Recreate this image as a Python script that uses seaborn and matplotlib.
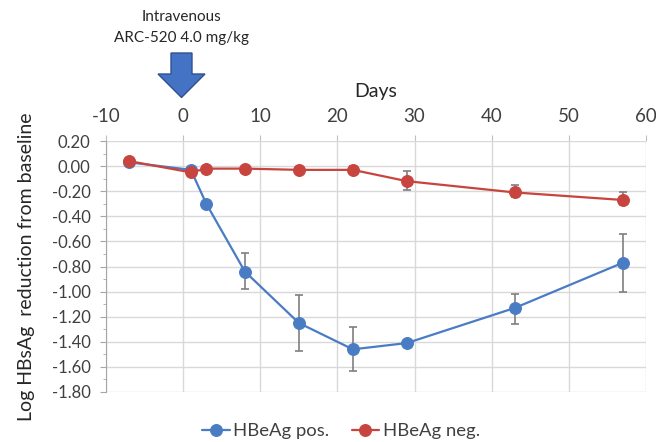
import numpy as np
import pandas as pd
import seaborn as sns
import matplotlib.pyplot as plt
from matplotlib.patches import Polygon
from matplotlib.ticker import MultipleLocator

# Days after dosing
days = [-7, 1, 3, 8, 15, 22, 29, 43, 57]

# HBeAg positive: mean log reduction and error bar ends
pos_mean = [0.03, -0.03, -0.30, -0.84, -1.25, -1.46, -1.41, -1.13, -0.77]
pos_low = [np.nan, np.nan, np.nan, -0.98, -1.47, -1.63, np.nan, -1.26, -1.00]
pos_high = [np.nan, np.nan, np.nan, -0.69, -1.03, -1.28, np.nan, -1.02, -0.54]

# HBeAg negative
neg_mean = [0.04, -0.05, -0.02, -0.02, -0.03, -0.03, -0.12, -0.21, -0.27]
neg_low = [np.nan, np.nan, np.nan, np.nan, np.nan, -0.06, -0.19, -0.25, -0.31]
neg_high = [np.nan, np.nan, np.nan, np.nan, np.nan, 0.00, -0.04, -0.15, -0.21]

groups = ["HBeAg pos.", "HBeAg neg."]
colors = ["#4A7CC4", "#C8443F"]

sns.set_style("white")
plt.rcParams["font.family"] = ["Lato", "DejaVu Sans"]
plt.rcParams["axes.unicode_minus"] = False

df = pd.DataFrame({
    "day": days + days,
    "value": pos_mean + neg_mean,
    "group": [groups[0]] * len(days) + [groups[1]] * len(days),
})

W, H = 656, 442
fig = plt.figure(figsize=(W / 100, H / 100), dpi=100)
ax = fig.add_axes([106 / W, 1 - 392 / H, 540 / W, 251 / H])

sns.lineplot(
    data=df, x="day", y="value", hue="group", hue_order=groups,
    palette=colors, marker="o", markersize=8.5, linewidth=1.6,
    ax=ax, legend=False, zorder=3
)
for line, c in zip(ax.lines, colors):
    line.set_markeredgecolor(c)
    line.set_markeredgewidth(0.8)
data_lines = list(ax.lines)

# error bars
for mean, low, high in [(pos_mean, pos_low, pos_high), (neg_mean, neg_low, neg_high)]:
    m = np.array(mean)
    lo = m - np.array(low)
    hi = np.array(high) - m
    ok = ~np.isnan(lo)
    ax.errorbar(
        np.array(days)[ok], m[ok], yerr=[lo[ok], hi[ok]],
        fmt="none", ecolor="#7F7F7F", elinewidth=1.2, capsize=3,
        capthick=1.2, zorder=2
    )

ax.set_xlim(-10, 60)
ax.set_ylim(-1.8, 0.2)
ax.xaxis.set_major_locator(MultipleLocator(10))
ax.yaxis.set_major_locator(MultipleLocator(0.2))
ax.yaxis.set_minor_locator(MultipleLocator(0.1))
ax.yaxis.set_major_formatter(lambda v, p: f"{v:.2f}")
ax.grid(True, color="#D9D9D9", linewidth=1)

ax.xaxis.tick_top()
ax.xaxis.set_label_position("top")
ax.tick_params(axis="x", length=4, direction="out", color="#BFBFBF",
               pad=7.5, labelsize=13.5, labelcolor="#404040")
ax.tick_params(axis="y", which="both", left=True, direction="out",
               color="#A6A6A6", labelsize=12, labelcolor="#404040", pad=7)
ax.tick_params(axis="y", which="major", length=4)
ax.tick_params(axis="y", which="minor", length=2.5)

for s in ["top", "right", "bottom"]:
    ax.spines[s].set_visible(False)
ax.spines["left"].set_color("#A6A6A6")

ax.set_xlabel("Days", fontsize=14, color="#262626", labelpad=8)
ax.set_ylabel("Log HBsAg  reduction from baseline", fontsize=14,
              color="#262626", labelpad=12)

# dosing annotation
fig.text(181 / W, 1 - 17 / H, "Intravenous", ha="center", va="center",
         fontsize=11, color="#262626")
fig.text(181 / W, 1 - 38 / H, "ARC-520 4.0 mg/kg", ha="center", va="center",
         fontsize=11, color="#262626")
arrow_px = [(171, 53), (192, 53), (192, 74), (205, 74), (181.5, 97.5),
            (158, 74), (171, 74)]
fig.add_artist(Polygon([(x / W, 1 - y / H) for x, y in arrow_px],
                       closed=True, transform=fig.transFigure,
                       facecolor="#4472C4", edgecolor="#2F528F", linewidth=1))

fig.legend(handles=data_lines, labels=groups, loc="center",
           bbox_to_anchor=(341 / W, 1 - 431 / H), ncol=2, frameon=False,
           fontsize=13.3, handlelength=1.5, handletextpad=0.2,
           columnspacing=1.2, labelcolor="#404040")

fig.savefig("out.png", dpi=100)
